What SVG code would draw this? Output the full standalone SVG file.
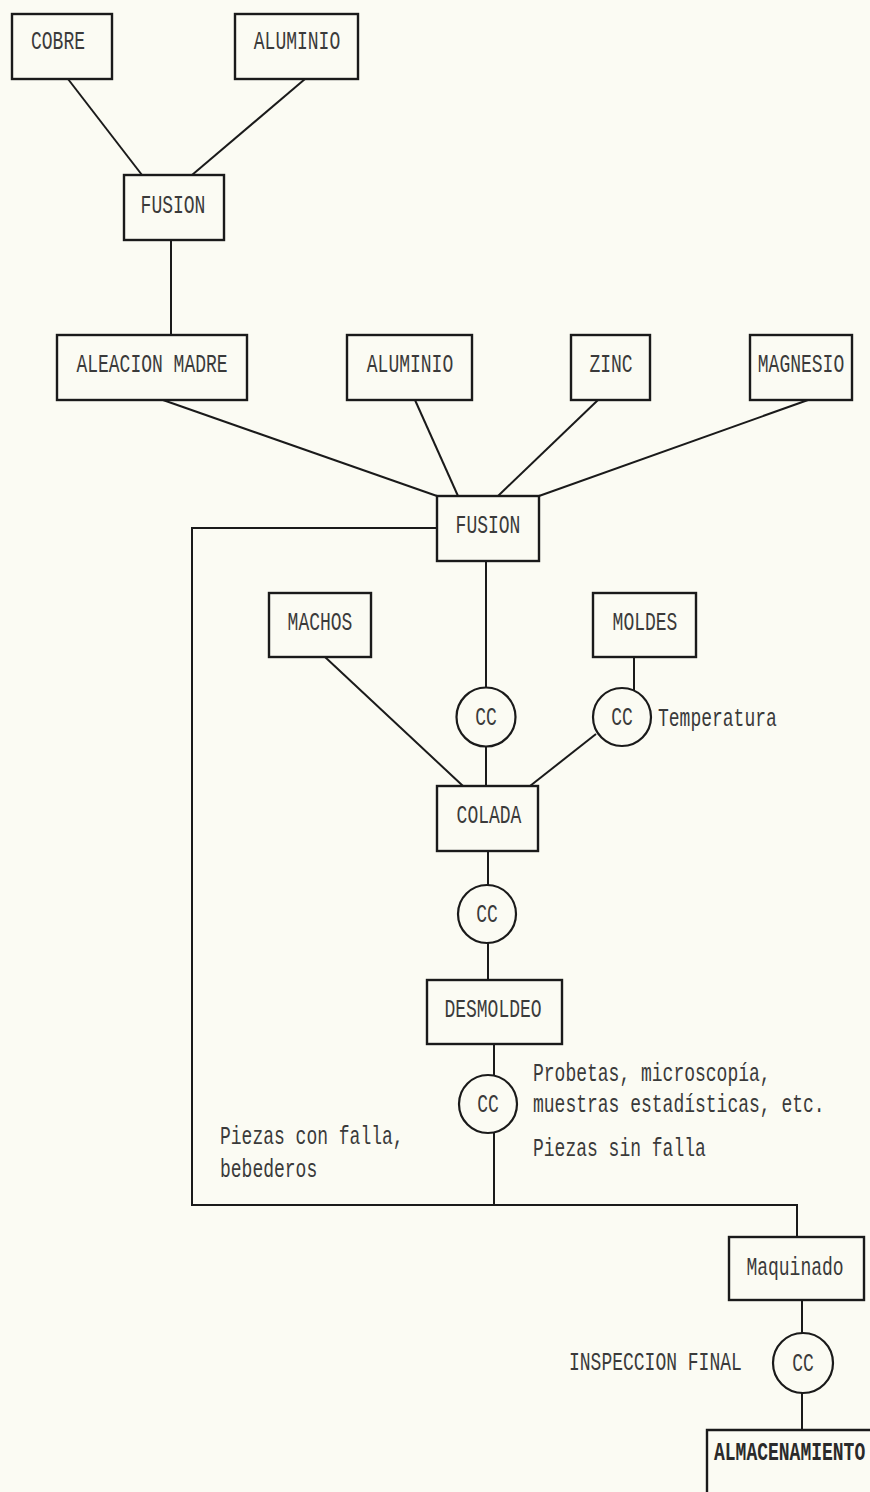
<svg xmlns="http://www.w3.org/2000/svg" width="870" height="1492" viewBox="0 0 870 1492">
<style>
.bg{fill:#fbfbf3}
.box{fill:none;stroke:#1a1a1a;stroke-width:2.4}
.cc{fill:none;stroke:#1a1a1a;stroke-width:2.2}
.ln{fill:none;stroke:#1a1a1a;stroke-width:2}
text{font-family:"Liberation Mono","DejaVu Sans Mono",monospace;font-size:18px;fill:#3a3a3a}
.m{text-anchor:middle}
.b{font-weight:bold;fill:#2a2a2a}
</style>
<rect class="bg" x="0" y="0" width="870" height="1492"/>
<g id="connectors">
<line class="ln" x1="68" y1="79" x2="142" y2="175"/>
<line class="ln" x1="305" y1="79" x2="192" y2="175"/>
<line class="ln" x1="171" y1="240" x2="171" y2="335"/>
<line class="ln" x1="163" y1="400" x2="437" y2="496"/>
<line class="ln" x1="415" y1="400" x2="458" y2="496"/>
<line class="ln" x1="598" y1="400" x2="498" y2="496"/>
<line class="ln" x1="808" y1="400" x2="539" y2="496"/>
<line class="ln" x1="486" y1="561" x2="486" y2="687.5"/>
<line class="ln" x1="486" y1="746.5" x2="486" y2="786"/>
<line class="ln" x1="325" y1="657" x2="463" y2="786"/>
<line class="ln" x1="634" y1="657" x2="634" y2="690.5"/>
<line class="ln" x1="596" y1="734" x2="530" y2="786"/>
<line class="ln" x1="488" y1="851" x2="488" y2="885"/>
<line class="ln" x1="488" y1="943" x2="488" y2="980"/>
<line class="ln" x1="494" y1="1044" x2="494" y2="1075.6"/>
<line class="ln" x1="494" y1="1132.4" x2="494" y2="1205"/>
<polyline class="ln" points="437,528 192,528 192,1205 797,1205 797,1237"/>
<line class="ln" x1="802" y1="1300" x2="802" y2="1333"/>
<line class="ln" x1="802" y1="1393" x2="802" y2="1430"/>
</g>
<g id="cobre"><rect class="box" x="12" y="14" width="100" height="65"/><text class="m" transform="translate(58 49) scale(1 1.38)">COBRE</text></g>
<g id="aluminio1"><rect class="box" x="235" y="14" width="123" height="65"/><text class="m" transform="translate(297 49) scale(1 1.38)">ALUMINIO</text></g>
<g id="fusion1"><rect class="box" x="124" y="175" width="100" height="65"/><text class="m" transform="translate(173 213) scale(1 1.38)">FUSION</text></g>
<g id="aleacion"><rect class="box" x="57" y="335" width="190" height="65"/><text class="m" transform="translate(152 372) scale(1 1.38)">ALEACION MADRE</text></g>
<g id="aluminio2"><rect class="box" x="347" y="335" width="125" height="65"/><text class="m" transform="translate(410 372) scale(1 1.38)">ALUMINIO</text></g>
<g id="zinc"><rect class="box" x="571" y="335" width="79" height="65"/><text class="m" transform="translate(611 372) scale(1 1.38)">ZINC</text></g>
<g id="magnesio"><rect class="box" x="750" y="335" width="102" height="65"/><text class="m" transform="translate(801 372) scale(1 1.38)">MAGNESIO</text></g>
<g id="fusion2"><rect class="box" x="437" y="496" width="102" height="65"/><text class="m" transform="translate(488 533) scale(1 1.38)">FUSION</text></g>
<g id="machos"><rect class="box" x="269" y="593" width="102" height="64"/><text class="m" transform="translate(320 630) scale(1 1.38)">MACHOS</text></g>
<g id="moldes"><rect class="box" x="593" y="593" width="103" height="64"/><text class="m" transform="translate(645 630) scale(1 1.38)">MOLDES</text></g>
<g id="cc1"><circle class="cc" cx="486" cy="717" r="29.5"/><text class="m" transform="translate(486 725) scale(1 1.38)">CC</text></g>
<g id="cc-temperatura"><circle class="cc" cx="622" cy="717" r="29"/><text class="m" transform="translate(622 725) scale(1 1.38)">CC</text><text transform="translate(658 726) scale(1 1.38)">Temperatura</text></g>
<g id="colada"><rect class="box" x="437" y="786" width="101" height="65"/><text class="m" transform="translate(489 823) scale(1 1.38)">COLADA</text></g>
<g id="cc2"><circle class="cc" cx="487" cy="914" r="29"/><text class="m" transform="translate(487 922) scale(1 1.38)">CC</text></g>
<g id="desmoldeo"><rect class="box" x="427" y="980" width="135" height="64"/><text class="m" transform="translate(493 1017) scale(1 1.38)">DESMOLDEO</text></g>
<g id="cc3"><circle class="cc" cx="488" cy="1104" r="29"/><text class="m" transform="translate(488 1112) scale(1 1.38)">CC</text>
<text transform="translate(533 1081) scale(1 1.38)">Probetas, microscopía,</text>
<text transform="translate(533 1112) scale(1 1.38)">muestras estadísticas, etc.</text>
<text transform="translate(533 1156) scale(1 1.38)">Piezas sin falla</text>
<text transform="translate(220 1144) scale(1 1.38)">Piezas con falla,</text>
<text transform="translate(220 1177) scale(1 1.38)">bebederos</text></g>
<g id="maquinado"><rect class="box" x="729" y="1237" width="135" height="63"/><text class="m" transform="translate(795 1275) scale(1 1.38)">Maquinado</text></g>
<g id="cc4"><circle class="cc" cx="803" cy="1363" r="30"/><text class="m" transform="translate(803 1371) scale(1 1.38)">CC</text><text transform="translate(569 1370) scale(1 1.38)">INSPECCION FINAL</text></g>
<g id="almacenamiento"><path class="box" d="M870 1430 H707 V1492"/><text class="b" transform="translate(714 1460) scale(1 1.38)">ALMACENAMIENTO</text></g>
</svg>
